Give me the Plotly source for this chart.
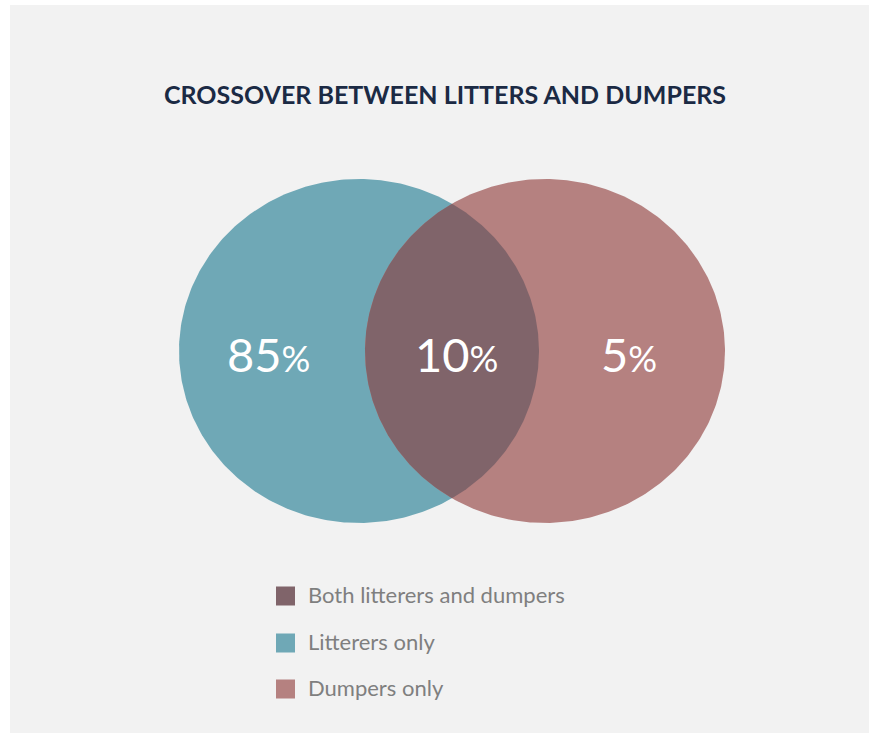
import numpy as np
import plotly.graph_objects as go

# ---- data ----
categories = ["Both litterers and dumpers", "Litterers only", "Dumpers only"]
values = [10, 85, 5]
title_text = "CROSSOVER BETWEEN LITTERS AND DUMPERS"

# ---- styles ----
col_both = "#80646A"
col_litter = "#6FA8B6"
col_dump = "#B58180"
FONT = "Lato"

W, H = 869, 734
cx_l, cx_r, cy = 359, 545, 351
rx, ry = 180, 172

fig = go.Figure()

t = np.linspace(0, 2 * np.pi, 400)
for cx, col, name in [(cx_l, col_litter, categories[1]), (cx_r, col_dump, categories[2])]:
    fig.add_trace(go.Scatter(x=cx + rx * np.cos(t), y=cy + ry * np.sin(t), fill="toself",
                             fillcolor=col, mode="lines", line=dict(width=0, color=col),
                             hoverinfo="skip", showlegend=False, name=name))

# lens (intersection)
t0 = np.arccos(((cx_r - cx_l) / 2) / rx)
a1 = np.linspace(-t0, t0, 200)
a2 = np.linspace(np.pi - t0, np.pi + t0, 200)
lx = np.concatenate([cx_l + rx * np.cos(a1), cx_r + rx * np.cos(a2)])
ly = np.concatenate([cy + ry * np.sin(a1), cy + ry * np.sin(a2)])
fig.add_trace(go.Scatter(x=lx, y=ly, fill="toself", fillcolor=col_both, mode="lines",
                         line=dict(width=0, color=col_both), hoverinfo="skip",
                         showlegend=False, name=categories[0]))

# value labels
label_x = {categories[1]: 268, categories[0]: 456, categories[2]: 629}
for cat, v in zip(categories, values):
    fig.add_annotation(x=label_x[cat], y=354, xref="x", yref="y", showarrow=False,
                       text=f"{v}<span style='font-size:36px'>%</span>",
                       font=dict(family=FONT, size=47, color="white"))

# legend (manual)
leg_cols = [col_both, col_litter, col_dump]
leg_y = [596, 643, 689]
fig.add_trace(go.Scatter(x=[285.5] * 3, y=leg_y, mode="markers",
                         marker=dict(symbol="square", size=19, color=leg_cols, line=dict(width=0)),
                         hoverinfo="skip", showlegend=False))
for cat, y in zip(categories, leg_y):
    fig.add_annotation(x=306, y=y - 2, xref="x", yref="y", xanchor="left", showarrow=False,
                       text=cat, font=dict(family=FONT, size=22, color="#7F7F7F"))

# title
fig.add_annotation(x=445, y=94, xref="x", yref="y", showarrow=False, text=f"<b>{title_text}</b>",
                   font=dict(family=FONT, size=25, color="#1B2A44"))

fig.update_layout(
    width=W, height=H, autosize=False,
    margin=dict(l=0, r=0, t=0, b=0),
    paper_bgcolor="white", plot_bgcolor="white",
    xaxis=dict(range=[0, W], visible=False, fixedrange=True),
    yaxis=dict(range=[H, 0], visible=False, fixedrange=True),
    shapes=[dict(type="rect", xref="x", yref="y", x0=10, x1=W, y0=5, y1=733,
                 fillcolor="#F2F2F2", line=dict(width=0), layer="below")],
    showlegend=False,
)

fig.write_html("out.html")
